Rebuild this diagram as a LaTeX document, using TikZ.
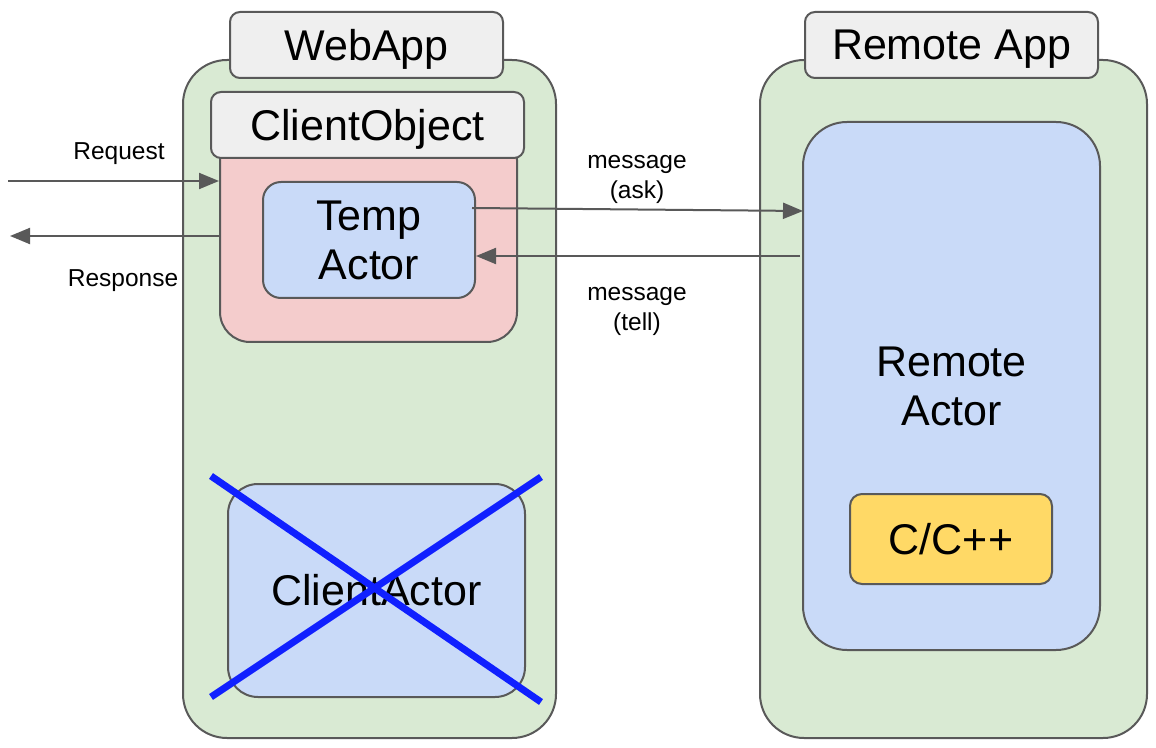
\documentclass[tikz,border=0pt]{standalone}
\usepackage{fontspec}
\setmainfont{Liberation Sans}
\usetikzlibrary{arrows.meta}
\definecolor{bordergray}{HTML}{595959}
\definecolor{appgreen}{HTML}{D9EAD3}
\definecolor{labelgray}{HTML}{EFEFEF}
\definecolor{objpink}{HTML}{F4CCCC}
\definecolor{actorblue}{HTML}{C9DAF8}
\definecolor{codeyellow}{HTML}{FFD966}
\definecolor{crossblue}{HTML}{1020FF}
\tikzset{
  box/.style={draw=bordergray, line width=1pt, inner sep=0pt, align=center},
  bigtxt/.style={font=\fontsize{21.5}{24.5}\selectfont},
  nodepth/.style={text depth=0pt},
  lowtwo/.style={text depth=-2.5pt},
  smalltxt/.style={font=\fontsize{12.25}{15}\selectfont, align=center},
  arr/.style={draw=bordergray, line width=1pt, -{Triangle[length=10pt,width=8pt]}},
  cross/.style={draw=crossblue, line width=3.5pt}
}
\begin{document}
\begin{tikzpicture}[x=0.5pt,y=-0.5pt]
\useasboundingbox (0,0) rectangle (1156,748);
% containers
\node[box, fill=appgreen, rounded corners=22pt, minimum width=186.5pt, minimum height=339pt] (webapp) at (369.5,399) {};
\node[box, fill=appgreen, rounded corners=22pt, minimum width=193.5pt, minimum height=339pt] (remoteapp) at (953.5,399) {};
% client object body
\node[box, fill=objpink, rounded corners=15pt, minimum width=148.5pt, minimum height=106pt] (pink) at (368.5,236) {};
% labels
\node[box, fill=labelgray, rounded corners=5pt, minimum width=136.5pt, minimum height=33pt, bigtxt, nodepth] (weblabel) at (366.5,45) {WebApp};
\node[box, fill=labelgray, rounded corners=5pt, minimum width=156.5pt, minimum height=33pt, bigtxt, nodepth] (cobj) at (367.5,125) {ClientObject};
\node[box, fill=labelgray, rounded corners=5pt, minimum width=146.5pt, minimum height=33pt, bigtxt, nodepth] (remlabel) at (951.5,45) {Remote App};
% actors
\node[box, fill=actorblue, rounded corners=9pt, minimum width=106pt, minimum height=58pt, bigtxt, lowtwo] (temp) at (369,240) {Temp\\Actor};
\node[box, fill=actorblue, rounded corners=15pt, minimum width=148.5pt, minimum height=106.5pt, bigtxt] (cactor) at (376.5,590.5) {ClientActor};
\node[box, fill=actorblue, rounded corners=22pt, minimum width=148.5pt, minimum height=264pt, bigtxt, lowtwo] (ractor) at (951.5,386) {Remote\\Actor};
\node[box, fill=codeyellow, rounded corners=6pt, minimum width=101pt, minimum height=45pt, bigtxt] (cpp) at (951,539) {C/C++};
% arrows
\coordinate (reqS) at (8,181);
\coordinate (respE) at (10,236);
\coordinate (askS) at (472,208);
\coordinate (askE) at (803,211);
\coordinate (tellS) at (800,256);
\draw[arr] (reqS) -- (pink.west |- reqS);
\draw[arr] (pink.west |- respE) -- (respE);
\draw[arr] (askS) -- (askE);
\draw[arr] (tellS) -- (temp.east |- tellS);
% arrow labels
\node[smalltxt] (lreq) at (119,153.5) {Request};
\node[smalltxt] (lresp) at (123,280.5) {Response};
\node[smalltxt] (lask) at (637,179) {message\\(ask)};
\node[smalltxt] (ltell) at (637,311) {message\\(tell)};
% cross
\coordinate (x1) at (211,476);
\coordinate (x2) at (541,702);
\coordinate (x3) at (211,697);
\coordinate (x4) at (541,477);
\draw[cross] (x1) -- (x2);
\draw[cross] (x3) -- (x4);
\end{tikzpicture}
\end{document}
